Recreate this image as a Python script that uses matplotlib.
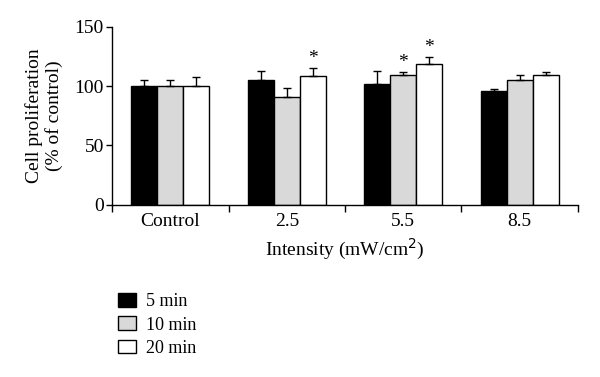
import matplotlib
matplotlib.use("Agg")
import matplotlib.pyplot as plt
import numpy as np
from matplotlib.patches import Patch

categories = ["Control", "2.5", "5.5", "8.5"]
series_names = ["5 min", "10 min", "20 min"]
values_5 = [100, 105, 102, 96]
values_10 = [100, 91, 109.5, 105]
values_20 = [100, 108.5, 119, 109.5]
err_5 = [5, 8, 11, 1.5]
err_10 = [5, 7, 2.5, 4.5]
err_20 = [8, 7, 5.5, 2]
stars_10 = [False, False, True, False]
stars_20 = [False, True, True, False]
colors = ["#000000", "#d9d9d9", "#ffffff"]

plt.rcParams['font.family'] = ['Liberation Serif', 'DejaVu Serif']
FS = 14

fig = plt.figure(figsize=(6, 3.77), dpi=100)
ax = fig.add_axes([0.187, 0.457, 0.776, 0.472])

x = np.arange(len(categories))
w = 0.223
vals = [values_5, values_10, values_20]
errs = [err_5, err_10, err_20]
stars = [None, stars_10, stars_20]
for i in range(3):
    pos = x + (i - 1) * w
    ax.bar(pos, vals[i], w, color=colors[i], edgecolor='black', linewidth=1.0, zorder=2)
    ax.errorbar(pos, vals[i], yerr=[np.zeros(len(categories)), errs[i]], fmt='none',
                ecolor='black', elinewidth=1.0, capsize=3.2, capthick=1.0, zorder=3)
    if stars[i] is not None:
        for j, s in enumerate(stars[i]):
            if s:
                ax.text(pos[j], vals[i][j] + errs[i][j] + 0.5, "*", ha='center', va='bottom',
                        fontsize=14)

ax.set_ylim(0, 150)
ax.set_xlim(-0.5, len(categories) - 0.5)
ax.set_yticks([0, 50, 100, 150])
ax.set_xticks(np.arange(len(categories) + 1) - 0.5)
ax.set_xticklabels([])
ax.set_xticks(x, minor=True)
ax.set_xticklabels(categories, minor=True)
ax.tick_params(axis='x', which='major', direction='out', length=5, width=1.0)
ax.tick_params(axis='x', which='minor', length=0, labelsize=FS, pad=6)
ax.tick_params(axis='y', direction='out', length=4, width=1.0, labelsize=FS, pad=2)
for sp in ['top', 'right']:
    ax.spines[sp].set_visible(False)
for sp in ['left', 'bottom']:
    ax.spines[sp].set_linewidth(1.0)

ax.set_xlabel("Intensity (mW/cm$^2$)", fontsize=FS, labelpad=5)
ax.set_ylabel("Cell proliferation\n(% of control)", fontsize=FS, labelpad=8,
              linespacing=1.15)

handles = [Patch(facecolor=colors[i], edgecolor='black', linewidth=1.0) for i in range(3)]
fig.legend(handles, series_names, loc='upper left', bbox_to_anchor=(0.196, 0.222),
           frameon=False, fontsize=13, handlelength=1.0, handleheight=0.8,
           handletextpad=0.6, labelspacing=0.33, borderaxespad=0, borderpad=0)

fig.savefig("out.png", dpi=100)
